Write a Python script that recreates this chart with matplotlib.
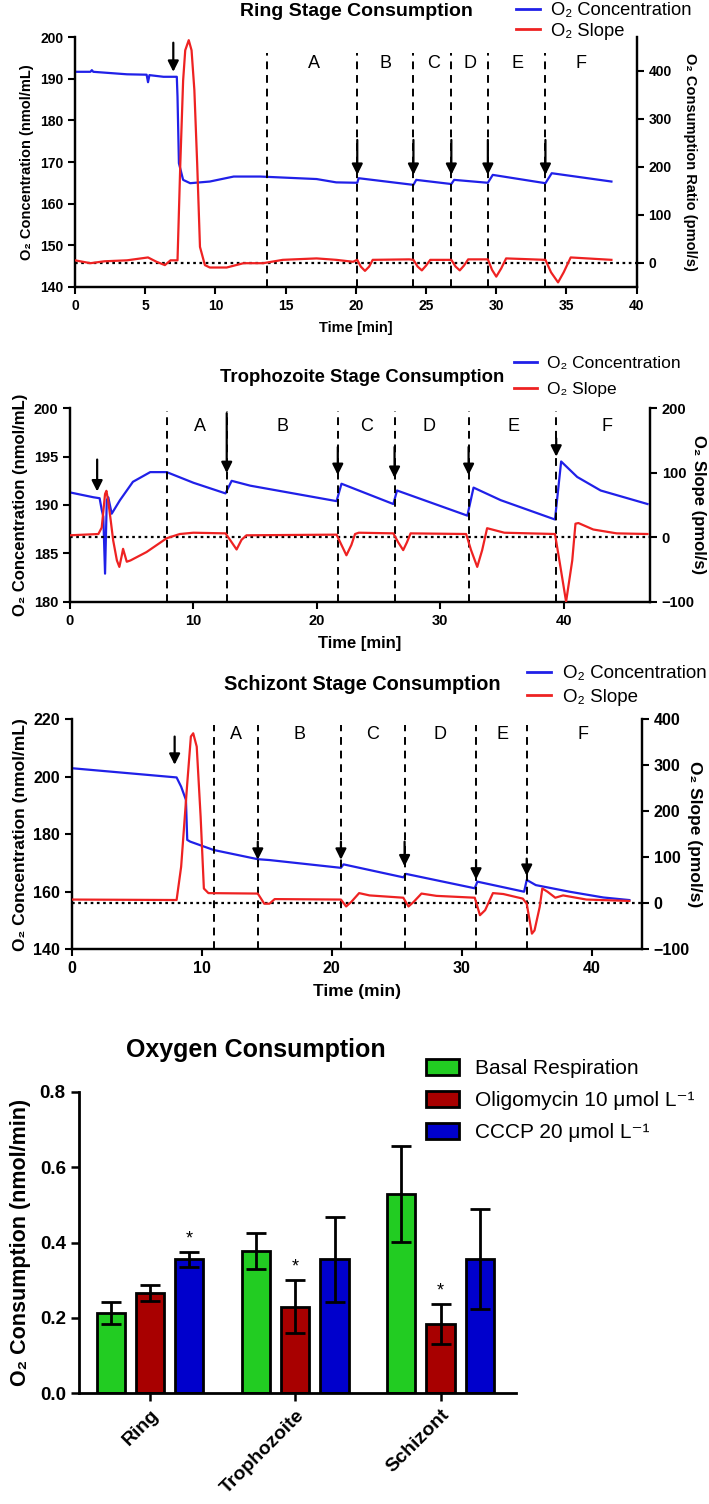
import numpy as np
import matplotlib.pyplot as plt
from matplotlib.patches import Patch
from matplotlib.lines import Line2D

plt.rcParams['font.family'] = ['Liberation Sans', 'DejaVu Sans']
plt.rcParams['axes.linewidth'] = 1.6

BLUE = '#2020e8'
RED = '#ee2222'

# ---------------- Ring stage ----------------
ring_conc_t = [0, 1.1, 1.2, 1.3, 3.7, 5.1, 5.2, 5.3, 6.3, 7.25, 7.3, 7.4, 7.7, 8.2, 9.6,
               11.3, 13.2, 17.2, 18.6, 20.1, 20.2, 24.1, 24.3, 26.8, 27.0, 29.4, 29.75,
               33.5, 33.95, 38.2]
ring_conc = [191.7, 191.7, 192.1, 191.7, 191.1, 191.0, 189.2, 190.9, 190.5, 190.5, 185.7,
             169.7, 165.7, 164.9, 165.3, 166.5, 166.5, 165.9, 165.1, 165.0, 166.1, 164.5,
             165.7, 164.7, 165.7, 165.0, 166.9, 164.9, 167.3, 165.3]
ring_slope_t = [0, 1.1, 2.1, 3.7, 5.2, 5.8, 6.4, 6.8, 7.3, 7.5, 7.7, 7.85, 8.1, 8.3, 8.5,
                8.7, 8.9, 9.25, 9.6, 10.8, 12.0, 13.4, 14.8, 17.2, 18.6, 19.8,
                20.1, 20.35, 20.65, 20.95, 21.2, 23.8, 24.1, 24.4, 24.7, 25.0, 25.3,
                26.8, 27.1, 27.4, 27.7, 28.0, 29.4, 29.7, 30.0, 30.35, 30.7,
                33.5, 33.9, 34.4, 34.8, 35.3, 38.2]
ring_slope = [5, -1, 3, 5, 11, 2, -5, 5, 5, 207, 380, 443, 464, 443, 360,
              207, 33, -5, -10, -10, -1, -1, 6, 9, 6, 2,
              6, -8, -17, -8, 6, 7, 6, -8, -16, -6, 6,
              6, -8, -16, -6, 7, 7, -15, -29, -12, 9,
              6, -20, -41, -20, 11, 6]
ring_cuts = [13.7, 20.1, 24.1, 26.8, 29.4, 33.5]
ring_letter_x = [17.0, 22.1, 25.5, 28.1, 31.5, 36.0]
ring_arrows = [(7.0, 198.7, 191.7), (20.1, 175.3, 166.9), (24.1, 175.3, 166.9),
               (26.8, 175.3, 166.9), (29.4, 175.3, 166.9), (33.5, 175.3, 166.9)]

# ---------------- Trophozoite stage ----------------
troph_conc_t = [0, 1.9, 2.4, 2.57, 2.7, 2.84, 2.98, 3.1, 3.38, 4.05, 5.1, 6.5, 7.84, 10.0,
                12.6, 13.1, 14.6, 21.6, 22.0, 26.2, 26.5, 32.2, 32.7, 34.9, 39.3, 39.8,
                41.1, 43.0, 46.8]
troph_conc = [191.3, 190.8, 190.7, 189.5, 188.8, 182.9, 190.5, 190.8, 189.1, 190.5, 192.4,
              193.4, 193.4, 192.3, 191.2, 192.5, 192.0, 190.4, 192.2, 190.1, 191.5, 188.9,
              191.8, 190.5, 188.5, 194.5, 192.9, 191.5, 190.1]
troph_slope_t = [0, 2.3, 2.57, 2.84, 2.95, 3.1, 3.3, 3.5, 3.8, 4.0, 4.2, 4.3, 4.6, 4.9,
                 6.2, 7.84, 8.9, 10.0, 12.6, 13.0, 13.5, 13.9, 14.3, 21.6, 22.0, 22.4,
                 22.8, 23.1, 23.4, 26.2, 26.6, 27.0, 27.3, 27.6, 32.1, 32.5, 33.0, 33.4,
                 33.8, 35.2, 39.3, 39.7, 40.2, 40.7, 40.96, 41.2, 42.4, 44.3, 46.8]
troph_slope = [3, 5, 15, 67, 72, 56, 26, -5, -36, -46, -28, -18, -38, -36,
               -23, -1.5, 5, 7, 6, -5, -19, -4, 3, 4, -12, -28,
               -12, 5, 7, 6, -8, -20, -8, 6, 5, -20, -46, -20,
               14, 7, 5, -41, -100, -36, 21, 22, 12, 6, 5]
troph_cuts = [7.84, 12.7, 21.7, 26.3, 32.3, 39.4]
troph_letter_x = [10.5, 17.2, 24.0, 29.1, 35.9, 43.5]
troph_arrows = [(2.2, 194.7, 191.4), (12.7, 199.5, 193.3), (21.7, 196.0, 193.1),
                (26.3, 196.0, 192.8), (32.3, 196.0, 193.1), (39.4, 196.9, 195.0)]

# ---------------- Schizont stage ----------------
schiz_conc_t = [0, 8.05, 8.4, 8.77, 8.87, 9.1, 10.9, 14.3, 15.2, 20.7, 20.9, 25.5, 25.7,
                31.0, 31.2, 34.8, 35.0, 35.7, 38.3, 40.9, 42.9]
schiz_conc = [202.9, 199.7, 196.5, 191.9, 178.0, 177.4, 174.5, 171.3, 171.0, 168.3, 169.5,
              165.0, 166.2, 161.2, 163.5, 160.0, 164.1, 162.3, 160.0, 158.0, 157.1]
schiz_slope_t = [0, 8.05, 8.4, 8.87, 9.15, 9.33, 9.6, 9.9, 10.15, 10.5, 14.3, 14.8, 15.2,
                 15.6, 20.7, 21.1, 21.5, 22.1, 22.9, 25.5, 25.9, 26.3, 26.9, 28.05, 31.0,
                 31.4, 31.8, 32.4, 33.2, 34.7, 35.0, 35.4, 35.6, 36.0, 36.2, 36.6, 37.2,
                 37.8, 39.6, 42.9]
schiz_slope = [8, 7, 79, 260, 362, 369, 340, 188, 32, 22, 21, -1, -1,
               9, 8, -7, 3, 22, 17, 12, -7, 3, 21, 16, 12,
               -26, -15, 22, 20, 10, -1, -66, -59, -8, 32, 25, 12,
               17, 8, 5]
schiz_cuts = [10.9, 14.3, 20.7, 25.6, 31.1, 35.0]
schiz_letter_x = [12.6, 17.5, 23.1, 28.3, 33.1, 39.3]
schiz_arrows = [(7.9, 213.9, 204.1), (14.3, 177.4, 171.1), (20.7, 177.4, 171.1),
                (25.6, 177.4, 168.8), (31.1, 171.0, 164.2), (35.0, 171.5, 165.5)]

# ---------------- Bar chart ----------------
stages = ['Ring', 'Trophozoite', 'Schizont']
basal = [0.212, 0.378, 0.529]
basal_err = [0.029, 0.047, 0.127]
oligo = [0.265, 0.230, 0.183]
oligo_err = [0.021, 0.070, 0.053]
cccp = [0.355, 0.355, 0.356]
cccp_err = [0.021, 0.113, 0.133]
signif = [(0, 2), (1, 1), (2, 1)]  # (stage, treatment) marked with *

LETTERS = ['A', 'B', 'C', 'D', 'E', 'F']

fig = plt.figure(figsize=(7.09, 15.04), dpi=100)


def trace_panel(rect, ct, cv, st, sv, cuts, letter_x, letter_y, cut_top, arrows,
                xlim, ylim, y2lim, xticks, yticks, y2ticks, title, title_fs, title_xy,
                leg_xy, leg_fs, leg_sp, ylabel, y2label, y2pad, xlabel, tick_fs, lab_fs):
    ax = fig.add_axes(rect)
    ax2 = ax.twinx()
    ax.plot(ct, cv, color=BLUE, lw=1.6, zorder=3)
    ax2.plot(st, sv, color=RED, lw=1.6, zorder=3)
    ax2.axhline(0, color='k', ls=(0, (1.2, 1.6)), lw=1.6, zorder=2)
    ax.vlines(cuts, ylim[0], cut_top, colors='k', linestyles=(0, (4, 3)), lw=1.4, zorder=4)
    for lx, lt in zip(letter_x, LETTERS):
        ax.text(lx, letter_y, lt, ha='center', va='center', fontsize=13)
    for x, y0, y1 in arrows:
        ax.annotate('', xy=(x, y1), xytext=(x, y0),
                    arrowprops=dict(arrowstyle='-|>', color='k', lw=1.6,
                                    mutation_scale=16, shrinkA=0, shrinkB=0), zorder=5)
    ax.set_xlim(*xlim)
    ax.set_ylim(*ylim)
    ax2.set_ylim(*y2lim)
    ax.set_xticks(xticks)
    ax.set_yticks(yticks)
    ax2.set_yticks(y2ticks)
    for a in (ax, ax2):
        a.spines['top'].set_visible(False)
        a.tick_params(direction='out', length=5, width=1.5, labelsize=tick_fs)
        for lab in a.get_xticklabels() + a.get_yticklabels():
            lab.set_fontweight('bold')
    ax.set_ylabel(ylabel, fontsize=lab_fs, fontweight='bold', labelpad=4)
    ax2.set_ylabel(y2label, fontsize=lab_fs, fontweight='bold', rotation=270, labelpad=y2pad)
    ax.set_xlabel(xlabel, fontsize=lab_fs, fontweight='bold', labelpad=6)
    fig.text(title_xy[0] / 709, 1 - title_xy[1] / 1504, title, ha='center', va='center',
             fontsize=title_fs, fontweight='bold')
    handles = [Line2D([], [], color=BLUE, lw=2), Line2D([], [], color=RED, lw=2)]
    fig.legend(handles, ['O\u2082 Concentration', 'O\u2082 Slope'], loc='upper left',
               bbox_to_anchor=(leg_xy[0] / 709, 1 - leg_xy[1] / 1504), frameon=False,
               fontsize=leg_fs, handlelength=1.3, handletextpad=0.6, labelspacing=leg_sp,
               borderaxespad=0, borderpad=0)
    return ax, ax2


trace_panel([75 / 709, 1 - 286.7 / 1504, 561.7 / 709, 249.4 / 1504],
            ring_conc_t, ring_conc, ring_slope_t, ring_slope, ring_cuts, ring_letter_x,
            193.8, 196.2, ring_arrows, (0, 40), (140, 200), (-50, 470), range(0, 41, 5),
            range(140, 201, 10), range(0, 401, 100), 'Ring Stage Consumption', 14, (356, 12),
            (516, 2), 13.2, 0.2, 'O\u2082 Concentration (nmol/mL)',
            'O\u2082 Consumption Ratio (pmol/s)', 18, 'Time [min]', 10, 10.5)

trace_panel([70 / 709, 1 - 601.7 / 1504, 580 / 709, 193.4 / 1504],
            troph_conc_t, troph_conc, troph_slope_t, troph_slope, troph_cuts, troph_letter_x,
            198.1, 199.7, troph_arrows, (0, 47.0), (180, 200), (-100, 200), range(0, 41, 10),
            range(180, 201, 5), range(-100, 201, 100), 'Trophozoite Stage Consumption', 13.3,
            (362, 377), (514, 356), 12.5, 0.6, 'O\u2082 Concentration (nmol/mL)',
            'O\u2082 Slope (pmol/s)', 8, 'Time [min]', 10.5, 12)

trace_panel([72 / 709, 1 - 949.3 / 1504, 569.7 / 709, 230.3 / 1504],
            schiz_conc_t, schiz_conc, schiz_slope_t, schiz_slope, schiz_cuts, schiz_letter_x,
            214.5, 218, schiz_arrows, (0, 43.85), (140, 220), (-100, 400), range(0, 41, 10),
            range(140, 221, 20), range(-100, 401, 100), 'Schizont Stage Consumption', 14.3,
            (362, 684), (527, 665), 13.5, 0.35, 'O\u2082 Concentration (nmol/mL)',
            'O\u2082 Slope (pmol/s)', 9, 'Time (min)', 11.5, 12.5)

# ---------------- bar chart ----------------
ax = fig.add_axes([79 / 709, 1 - 1393.3 / 1504, 437 / 709, 301.6 / 1504])
x = np.arange(len(stages))
off = 0.27
w = 0.195
series = [(basal, basal_err, '#22cc22', 'Basal Respiration'),
          (oligo, oligo_err, '#a80000', 'Oligomycin 10 \u03bcmol L\u207b\u00b9'),
          (cccp, cccp_err, '#0000cc', 'CCCP 20 \u03bcmol L\u207b\u00b9')]
for i, (vals, errs, col, lab) in enumerate(series):
    ax.bar(x + (i - 1) * off, vals, w, color=col, edgecolor='k', lw=2, label=lab, zorder=2)
    ax.errorbar(x + (i - 1) * off, vals, yerr=errs, fmt='none', ecolor='k', elinewidth=2,
                capsize=7, capthick=2, zorder=3)
for s, t in signif:
    vals, errs = series[t][0], series[t][1]
    ax.text(x[s] + (t - 1) * off, vals[s] + errs[s] + 0.012, '*', ha='center', va='bottom',
            fontsize=13)
ax.set_xlim(-0.49, 2.52)
ax.set_ylim(0, 0.8)
ax.set_yticks([0.0, 0.2, 0.4, 0.6, 0.8])
ax.set_yticklabels(['0.0', '0.2', '0.4', '0.6', '0.8'], fontweight='bold', fontsize=13.5)
ax.set_xticks(x)
ax.set_xticklabels(stages, rotation=45, ha='right', rotation_mode='anchor',
                   fontweight='bold', fontsize=14)
ax.spines['top'].set_visible(False)
ax.spines['right'].set_visible(False)
ax.spines['left'].set_linewidth(2)
ax.spines['bottom'].set_linewidth(2)
ax.tick_params(direction='out', length=6, width=1.8)
ax.set_ylabel('O\u2082 Consumption (nmol/min)', fontsize=15.5, fontweight='bold', labelpad=6)
fig.text(256 / 709, 1 - 1050 / 1504, 'Oxygen Consumption', ha='center', va='center',
         fontsize=18, fontweight='bold')
fig.legend(handles=[Patch(facecolor=c, edgecolor='k', lw=2) for _, _, c, _ in series],
           labels=[l for _, _, _, l in series], loc='upper left',
           bbox_to_anchor=(426 / 709, 1 - 1059 / 1504), frameon=False, fontsize=15,
           handlelength=1.6, handleheight=0.8, handletextpad=0.75, labelspacing=0.62,
           borderaxespad=0, borderpad=0)

fig.savefig('out.png', dpi=100)
